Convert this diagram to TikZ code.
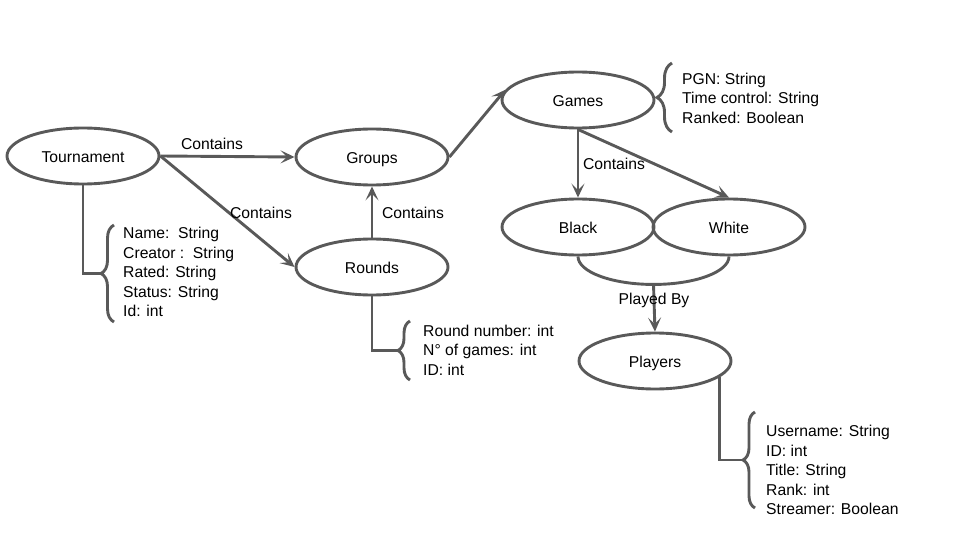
\documentclass[tikz,border=0pt]{standalone}
\usepackage{fontspec}
\setmainfont{Liberation Sans}
\usetikzlibrary{shapes.geometric,arrows.meta,decorations.pathreplacing,calc}
\definecolor{ln}{HTML}{595959}
\begin{document}
\begin{tikzpicture}[x=1pt,y=-1pt,
  ent/.style={ellipse,draw=ln,line width=2.9pt,minimum width=152pt,minimum height=56pt,inner sep=0pt,text height=14pt,text depth=1pt,font=\fontsize{15.7}{19}\selectfont},
  conn/.style={draw=ln,line width=2.9pt,-{Stealth[length=14pt,width=13pt,inset=6.5pt]}},
  link/.style={draw=ln,line width=2.9pt},
  brc/.style={draw=ln,line width=2.9pt,decorate,decoration={brace,amplitude=#1}},
  lbl/.style={font=\fontsize{15.7}{19}\selectfont,inner sep=0pt,text height=14pt,text depth=1pt},
  attr/.style={font=\fontsize{15.7}{19.4}\selectfont,align=left,anchor=west,inner sep=0pt}]
\useasboundingbox (0,0) rectangle (960,540);

% entities
\node[ent] (tour) at (83,156) {Tournament};
\node[ent] (groups) at (372,157) {Groups};
\node[ent] (rounds) at (372,267) {Rounds};
\node[ent] (games) at (578,100) {Games};
\node[ent] (black) at (578,227) {Black};
\node[ent] (white) at (729,227) {White};
\node[ent] (players) at (655,361) {Players};

% connectors
\draw[conn] (tour.east) -- (groups.west);
\draw[conn] (tour.east) -- (rounds.west);
\draw[conn] (rounds.north) -- (groups.south);
\draw[conn] (groups.east) -- (games.172);
\draw[conn] (games.south) -- (black.north);
\draw[conn] (games.south) -- (white.north);
\draw[link] (black.south) arc[start angle=180,end angle=360,x radius=75.5pt,y radius=28pt];
\coordinate (pb) at ($(black.south)!0.5!(white.south)+(0,28)$);
\draw[conn] (pb) -- (players.north);

% labels
\node[lbl] (l1) at (212,143) {Contains};
\node[lbl] (l2) at (261,212) {Contains};
\node[lbl] (l3) at (413,212) {Contains};
\node[lbl] (l4) at (614,163) {Contains};
\node[lbl] (l5) at (654,298) {Played By};

% attribute braces
\coordinate (tbtop) at (114,225);
\coordinate (tbbot) at (114,322);
\coordinate (tbtip) at (101,273.5);
\draw[brc=13pt] (tbbot) -- (tbtop);
\draw[link] (tour.south) |- (tbtip);
\node[attr] (tattr) at (123,272) {Name:\ \ String\\Creator :\ \ String\\Rated: String\\Status: String\\Id: int};

\coordinate (rbtop) at (410,321);
\coordinate (rbbot) at (410,380);
\coordinate (rbtip) at (398,350.5);
\draw[brc=12pt] (rbbot) -- (rbtop);
\draw[link] (rounds.south) |- (rbtip);
\node[attr] (rattr) at (423,350) {Round number: int\\N° of games: int\\ID: int};

\coordinate (gbtop) at (672,63);
\coordinate (gbbot) at (672,132);
\draw[brc=15pt] (gbbot) -- (gbtop);
\node[attr] (gattr) at (682,98) {PGN: String\\Time control: String\\Ranked: Boolean};

\coordinate (pbtop) at (755,412);
\coordinate (pbbot) at (755,508);
\coordinate (pbtip) at (743,460);
\draw[brc=12pt] (pbbot) -- (pbtop);
\draw[link] (players.-14) |- (pbtip);
\node[attr] (pattr) at (766,470) {Username: String\\ID: int\\Title: String\\Rank: int\\Streamer: Boolean};
\end{tikzpicture}
\end{document}
